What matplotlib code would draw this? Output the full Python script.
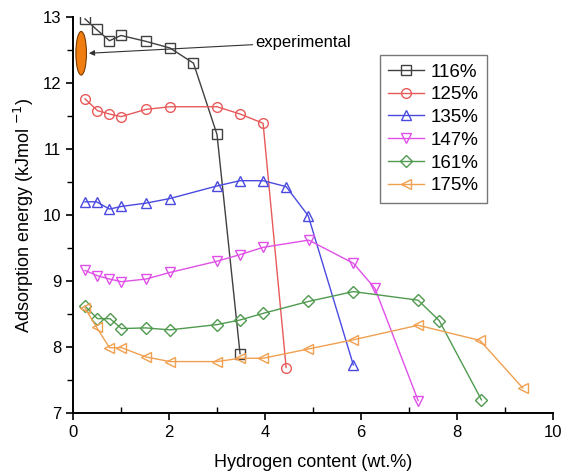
import matplotlib
matplotlib.use("Agg")
import matplotlib.pyplot as plt
from matplotlib.patches import Ellipse
from matplotlib.ticker import MultipleLocator

plt.rcParams["font.family"] = ["Liberation Sans", "DejaVu Sans"]

labels = ["116%", "125%", "135%", "147%", "161%", "175%"]

x_116 = [0.25, 0.49, 0.76, 1.0, 1.52, 2.02, 2.51, 3.0, 3.48]
y_116 = [12.97, 12.81, 12.64, 12.72, 12.63, 12.53, 12.30, 11.22, 7.90]

x_125 = [0.25, 0.51, 0.76, 1.0, 1.52, 2.02, 3.0, 3.48, 3.96, 4.44]
y_125 = [11.76, 11.58, 11.53, 11.49, 11.60, 11.64, 11.64, 11.53, 11.39, 7.69]

x_135 = [0.25, 0.49, 0.76, 1.01, 1.52, 2.02, 3.0, 3.48, 3.96, 4.44, 4.9, 5.84]
y_135 = [10.20, 10.20, 10.09, 10.13, 10.18, 10.25, 10.44, 10.52, 10.52, 10.43, 9.99, 7.73]

x_147 = [0.25, 0.51, 0.76, 1.01, 1.52, 2.02, 3.0, 3.48, 3.96, 4.91, 5.84, 6.29, 7.19]
y_147 = [9.16, 9.08, 9.03, 8.99, 9.03, 9.13, 9.30, 9.40, 9.51, 9.62, 9.27, 8.89, 7.19]

x_161 = [0.25, 0.51, 0.77, 1.01, 1.52, 2.02, 3.0, 3.48, 3.96, 4.9, 5.84, 7.19, 7.63, 8.51]
y_161 = [8.62, 8.43, 8.43, 8.28, 8.29, 8.26, 8.34, 8.41, 8.51, 8.69, 8.84, 8.71, 8.40, 7.20]

x_175 = [0.25, 0.49, 0.76, 1.01, 1.52, 2.02, 3.0, 3.48, 3.96, 4.9, 5.84, 7.19, 8.48, 9.37]
y_175 = [8.59, 8.30, 7.99, 7.99, 7.85, 7.78, 7.78, 7.83, 7.83, 7.97, 8.11, 8.33, 8.10, 7.38]

series = [
    (x_116, y_116, "#404040", "s"),
    (x_125, y_125, "#e85a5a", "o"),
    (x_135, y_135, "#4a4ae0", "^"),
    (x_147, y_147, "#e050e8", "v"),
    (x_161, y_161, "#4f9a4f", "D"),
    (x_175, y_175, "#f0a050", "<"),
]

fig = plt.figure(figsize=(5.66, 4.71), dpi=100)
ax = fig.add_axes([0.129, 0.123, 0.848, 0.841])

for (xs, ys, color, marker), label in zip(series, labels):
    ms = 6.0 if marker == "D" else 7.0
    if marker == "s":
        ms = 6.5
    ax.plot(xs, ys, color=color, lw=1.0, marker=marker, ms=ms,
            mfc="none", mec=color, mew=1.0, label=label)

ax.add_patch(Ellipse((0.17, 12.45), 0.22, 0.66, facecolor="#f07d10",
                     edgecolor="#7a3a00", lw=0.8, zorder=5))
ax.annotate("experimental", xy=(0.33, 12.45), xytext=(3.8, 12.62),
            fontsize=12, va="center", ha="left",
            arrowprops=dict(arrowstyle="-|>", color="#333333", lw=0.8,
                            mutation_scale=8, shrinkA=0, shrinkB=0))

ax.set_xlim(0, 10)
ax.set_ylim(7, 13)
ax.xaxis.set_major_locator(MultipleLocator(2))
ax.xaxis.set_minor_locator(MultipleLocator(1))
ax.yaxis.set_major_locator(MultipleLocator(1))
ax.yaxis.set_minor_locator(MultipleLocator(0.5))
ax.tick_params(axis="both", which="major", labelsize=12, length=5, width=1.2,
               direction="out")
ax.tick_params(axis="x", which="minor", length=4, width=1.0, direction="in")
ax.tick_params(axis="y", which="minor", length=4, width=1.0, direction="out")
for side in ["top", "right"]:
    ax.spines[side].set_visible(False)
for side in ["left", "bottom"]:
    ax.spines[side].set_linewidth(1.4)

ax.set_xlabel("Hydrogen content (wt.%)", fontsize=13, labelpad=10)
ax.set_ylabel("Adsorption energy (kJmol $^{-1}$)", fontsize=13, labelpad=5)

leg = ax.legend(loc="upper right", bbox_to_anchor=(0.8625, 0.904), fontsize=13.5,
                frameon=True, fancybox=False, edgecolor="#555555",
                handlelength=1.9, handletextpad=0.35, labelspacing=0.3,
                borderpad=0.45, borderaxespad=0)
leg.get_frame().set_linewidth(1.0)

fig.savefig("out.png", dpi=100)
